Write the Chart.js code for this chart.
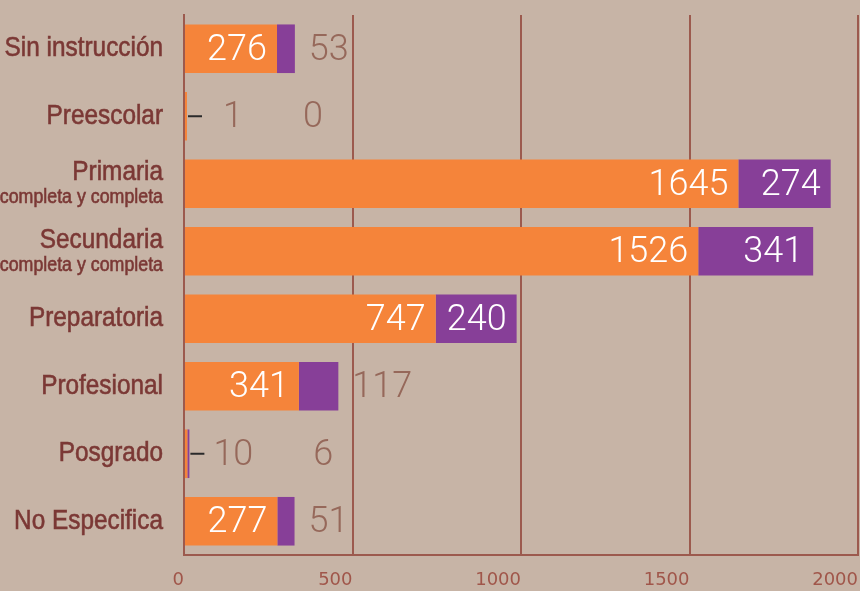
<!DOCTYPE html>
<html>
<head>
<meta charset="utf-8">
<script src="https://cdn.jsdelivr.net/npm/chart.js@4/dist/chart.umd.min.js"></script>
<style>
  html, body { margin: 0; padding: 0; background: #c7b4a6; }
  #wrap { width: 860px; height: 591px; position: relative; }
</style>
</head>
<body>
<div id="wrap"><canvas id="grafico"></canvas></div>
<script>
var categorias = ['Sin instrucción', 'Preescolar', 'Primaria', 'Secundaria', 'Preparatoria', 'Profesional', 'Posgrado', 'No Especifica'];
var subtitulos = ['', '', 'completa y completa', 'completa y completa', '', '', '', ''];
var naranja = [276, 1, 1645, 1526, 747, 341, 10, 277];
var morado = [53, 0, 274, 341, 240, 117, 6, 51];
var marcasX = [0, 500, 1000, 1500, 2000];

var colorNaranja = '#f5843a';
var colorMorado = '#873f98';
var colorLinea = '#9c5a4e';
var colorTexto = '#7b3835';
var colorFuera = '#96685a';
var fuenteValor = '300 36px Roboto, "Open Sans", sans-serif';

// texto estrecho: Liberation Sans comprimido en horizontal
function textoEstrecho(ctx, txt, x, y, tam, escala) {
    ctx.save();
    ctx.font = tam + 'px "Liberation Sans", Arial, sans-serif';
    ctx.translate(x, y);
    ctx.scale(escala, 1);
    ctx.lineWidth = 0.6;
    ctx.strokeStyle = colorTexto;
    ctx.strokeText(txt, 0, 0);
    ctx.fillText(txt, 0, 0);
    ctx.restore();
}

// etiquetas de categoria con dos tamaños de letra
var etiquetasY = {
    id: 'etiquetasY',
    afterDraw: function (chart) {
        var ctx = chart.ctx;
        var y = chart.scales.y;
        var derecha = chart.chartArea.left - 21;
        ctx.save();
        ctx.fillStyle = colorTexto;
        ctx.textAlign = 'right';
        ctx.textBaseline = 'middle';
        categorias.forEach(function (c, i) {
            var py = y.getPixelForTick(i);
            if (subtitulos[i]) {
                textoEstrecho(ctx, c, derecha, py - 11, 28, 0.87);
                textoEstrecho(ctx, subtitulos[i], derecha, py + 14, 20, 0.89);
            } else {
                textoEstrecho(ctx, c, derecha, py, 28, 0.87);
            }
        });
        ctx.restore();
    }
};

// valores dentro o fuera de las barras
var valores = {
    id: 'valores',
    afterDatasetsDraw: function (chart) {
        var ctx = chart.ctx;
        var mN = chart.getDatasetMeta(0);
        var mM = chart.getDatasetMeta(1);
        ctx.save();
        ctx.font = fuenteValor;
        ctx.textBaseline = 'middle';
        categorias.forEach(function (c, i) {
            var bN = mN.data[i];
            var bM = mM.data[i];
            var py = bN.y + 2;
            var tN = String(naranja[i]);
            var wN = ctx.measureText(tN).width;
            var limite;
            if (bN.x - bN.base > wN + 16) {
                ctx.fillStyle = '#ffffff';
                ctx.textAlign = 'right';
                ctx.fillText(tN, bN.x - 10, py);
                limite = 0;
            } else {
                var fin = Math.max(bN.x, bM.x);
                ctx.strokeStyle = '#2a2a2a';
                ctx.lineWidth = 2;
                ctx.beginPath();
                ctx.moveTo(fin + 1, bN.y);
                ctx.lineTo(fin + 15, bN.y);
                ctx.stroke();
                ctx.fillStyle = colorFuera;
                ctx.textAlign = 'center';
                ctx.fillText(tN, bN.x + 46, py);
                limite = bN.x + 46 + wN / 2 + 60;
            }
            var tM = String(morado[i]);
            var wM = ctx.measureText(tM).width;
            if (bM.x - bM.base > wM + 16) {
                ctx.fillStyle = '#ffffff';
                ctx.textAlign = 'right';
                ctx.fillText(tM, bM.x - 10, py);
            } else {
                ctx.fillStyle = colorFuera;
                ctx.textAlign = 'left';
                ctx.fillText(tM, Math.max(bM.x + 14, limite), py);
            }
        });
        ctx.restore();
    }
};

var chart = new Chart('grafico', {
    type: 'bar',
    data: {
        labels: categorias,
        datasets: [{
            data: naranja,
            backgroundColor: colorNaranja,
            barPercentage: 0.72,
            categoryPercentage: 1,
            minBarLength: 3
        }, {
            data: morado,
            backgroundColor: colorMorado,
            barPercentage: 0.72,
            categoryPercentage: 1
        }]
    },
    options: {
        indexAxis: 'y',
        responsive: true,
        maintainAspectRatio: false,
        animation: false,
        layout: { padding: { left: 184, right: 2, top: 15, bottom: 0 } },
        plugins: {
            legend: { display: false },
            tooltip: { enabled: false }
        },
        scales: {
            x: {
                stacked: true,
                min: 0,
                max: 2000,
                afterBuildTicks: function (axis) {
                    axis.ticks = marcasX.map(function (v) { return { value: v }; });
                },
                afterFit: function (axis) {
                    axis.height = 36;
                    axis.paddingLeft = 0;
                    axis.paddingRight = 0;
                },
                grid: { color: colorLinea, lineWidth: 2, drawTicks: false },
                border: { color: colorLinea, width: 2 },
                ticks: {
                    align: 'end',
                    padding: 15,
                    color: '#a0564a',
                    font: { family: 'DejaVu Sans', size: 18 },
                    callback: function (v) { return String(v); }
                }
            },
            y: {
                stacked: true,
                grid: { display: false },
                border: { color: colorLinea, width: 2 },
                ticks: { display: false },
                afterFit: function (axis) { axis.width = 0; }
            }
        }
    },
    plugins: [etiquetasY, valores]
});
</script>
</body>
</html>
